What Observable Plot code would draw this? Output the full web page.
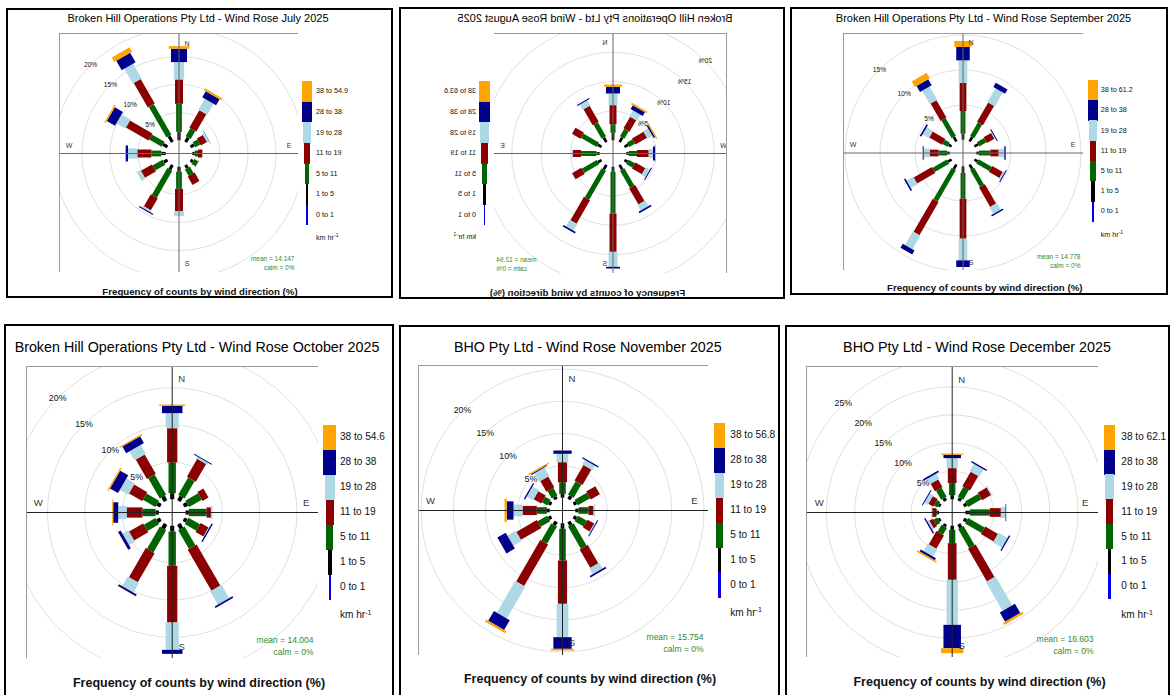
<!DOCTYPE html>
<html>
<head>
<meta charset="utf-8">
<script src="https://cdn.jsdelivr.net/npm/d3@7"></script>
<script src="https://cdn.jsdelivr.net/npm/@observablehq/plot@0.6"></script>
<style>
  html, body { margin: 0; padding: 0; background: #fff; }
  body { width: 1170px; height: 695px; overflow: hidden; position: relative; font-family: "Liberation Sans", Arial, sans-serif; color: #000; }
  .panel { position: absolute; background: #fff; overflow: hidden; }
  .frame { position: absolute; left: 0; top: 0; width: 100%; height: 100%; border: 2px solid #000; box-sizing: border-box; pointer-events: none; }
  .abs { position: absolute; white-space: nowrap; line-height: 1; }
  .ctr { transform: translate(-50%, -50%); }
  .lft { transform: translate(0, -50%); }
  .plotbox { position: absolute; }
  sup { font-size: 70%; vertical-align: 0; position: relative; top: -0.5em; }
</style>
</head>
<body>
<script>
// ---------------- DATA ----------------
const directions = [0, 30, 60, 90, 120, 150, 180, 210, 240, 270, 300, 330];
const speedBins = ["0 to 1", "1 to 5", "5 to 11", "11 to 19", "19 to 28", "28 to 38", "38+"];
const binColors = ["#0000ee", "#000000", "#006400", "#8b0000", "#add8e6", "#00008b", "#ffa500"];
const months = ["July", "August", "September", "October", "November", "December"];
const titles = [
  "Broken Hill Operations Pty Ltd - Wind Rose July 2025",
  "Broken Hill Operations Pty Ltd - Wind Rose August 2025",
  "Broken Hill Operations Pty Ltd - Wind Rose September 2025",
  "Broken Hill Operations Pty Ltd - Wind Rose October 2025",
  "BHO Pty Ltd - Wind Rose November 2025",
  "BHO Pty Ltd - Wind Rose December 2025"
];
const topBinMax = ["54.9", "63.6", "61.2", "54.6", "56.8", "62.1"];
const meanSpeeds = ["14.147", "12.94", "14.778", "14.004", "15.754", "16.603"];
const calmPct = ["0%", "0%", "0%", "0%", "0%", "0%"];
const ringTicks = [
  [5, 10, 15, 20],
  [5, 10, 15, 20],
  [5, 10, 15],
  [5, 10, 15, 20],
  [5, 10, 15, 20],
  [5, 10, 15, 20, 25]
];
const captionText = "Frequency of counts by wind direction (%)";
const unitText = "km hr";

// frequency (%) per direction (rows follow `directions`), columns follow `speedBins`
const julyFreq = [
  [0.06, 1.49, 5.00, 4.35, 3.10, 2.40, 0.45],
  [0.06, 0.90, 1.67, 3.57, 2.26, 1.25, 0.36],
  [0.06, 0.72, 1.00, 1.25, 0.41, 0.05, 0],
  [0.06, 0.42, 0.59, 0.78, 0.03, 0, 0],
  [0.06, 0.48, 0.83, 0.05, 0, 0, 0],
  [0.06, 0.60, 1.37, 1.72, 0.05, 0, 0],
  [0.06, 0.89, 3.04, 3.99, 0.89, 0, 0],
  [0.06, 0.89, 5.54, 2.50, 0.36, 0.17, 0],
  [0.06, 0.72, 2.08, 2.26, 0.71, 0.02, 0],
  [0.06, 0.77, 1.79, 2.50, 1.67, 0.41, 0.02],
  [0.06, 0.89, 2.62, 4.64, 1.85, 1.67, 0.27],
  [0.06, 1.19, 6.31, 5.06, 3.04, 1.96, 0.89]
];
const augustFreq = [
  [0.05, 1.26, 1.47, 3.23, 1.98, 1.14, 0.39],
  [0.05, 0.86, 2.78, 3.11, 1.02, 0.17, 0],
  [0.05, 0.69, 3.12, 1.64, 0, 0, 0],
  [0.05, 0.57, 2.61, 1.36, 0.23, 0, 0],
  [0.05, 0.69, 2.95, 1.81, 0.05, 0, 0],
  [0.05, 0.86, 5.72, 4.60, 1.30, 0.28, 0],
  [0.05, 0.86, 7.08, 6.52, 2.55, 0.29, 0],
  [0.05, 0.86, 3.40, 3.17, 1.08, 0.28, 0],
  [0.05, 0.57, 1.25, 1.93, 0.79, 0.17, 0],
  [0.05, 0.40, 1.42, 1.99, 0.73, 0.34, 0.12],
  [0.05, 0.69, 1.13, 2.27, 0.96, 0.29, 0.22],
  [0.05, 0.86, 1.47, 2.27, 1.19, 0.74, 0.28]
];
const septemberFreq = [
  [0.05, 0.85, 3.24, 4.00, 3.24, 1.91, 0.85],
  [0.05, 0.71, 2.24, 3.19, 2.29, 0.71, 0],
  [0.05, 0.57, 1.19, 1.24, 0.14, 0.14, 0],
  [0.05, 0.38, 1.62, 1.19, 0.81, 0.19, 0],
  [0.05, 0.47, 2.15, 1.76, 0.24, 0.14, 0],
  [0.05, 0.71, 2.81, 3.19, 1.10, 0.19, 0],
  [0.05, 0.95, 3.67, 5.71, 3.10, 0.95, 0],
  [0.05, 0.71, 5.19, 5.48, 2.24, 0.66, 0],
  [0.05, 0.57, 2.38, 3.00, 1.10, 0.23, 0],
  [0.05, 0.38, 1.19, 1.28, 0.86, 0.14, 0],
  [0.05, 0.47, 0.81, 2.10, 1.05, 0.23, 0],
  [0.05, 0.71, 2.95, 2.86, 2.19, 1.00, 0.91]
];
const octoberFreq = [
  [0.05, 0.80, 4.12, 4.60, 2.02, 0.98, 0.18],
  [0.05, 0.67, 2.68, 2.77, 0.27, 0.14, 0],
  [0.05, 0.53, 1.97, 0.94, 0.03, 0, 0],
  [0.05, 0.44, 2.37, 0.59, 0.22, 0, 0],
  [0.05, 0.44, 1.79, 1.21, 0.09, 0.18, 0],
  [0.05, 0.67, 2.90, 6.36, 2.06, 0.22, 0],
  [0.05, 0.76, 4.60, 7.61, 3.67, 0.54, 0],
  [0.05, 0.67, 3.44, 4.52, 1.48, 0.27, 0.04],
  [0.05, 0.53, 1.79, 2.19, 0.90, 0.40, 0.03],
  [0.05, 0.44, 1.75, 2.14, 1.12, 0.67, 0.14],
  [0.05, 0.53, 1.93, 2.05, 1.30, 1.25, 0.18],
  [0.05, 0.67, 3.13, 3.00, 1.38, 1.03, 0.18]
];
const novemberFreq = [
  [0.05, 0.59, 1.81, 3.10, 1.30, 0.51, 0],
  [0.05, 0.59, 2.38, 2.79, 0.78, 0.20, 0],
  [0.05, 0.49, 2.17, 1.65, 0.05, 0, 0],
  [0.05, 0.49, 1.55, 0.78, 0.25, 0, 0],
  [0.05, 0.49, 1.60, 1.19, 0.16, 0.15, 0],
  [0.05, 0.59, 3.98, 3.31, 1.03, 0.26, 0],
  [0.05, 0.85, 4.91, 6.72, 5.17, 1.81, 0.26],
  [0.05, 0.59, 3.10, 7.45, 5.68, 1.76, 0.36],
  [0.05, 0.49, 1.71, 3.67, 1.49, 1.50, 0],
  [0.05, 0.44, 1.55, 2.22, 1.40, 1.03, 0.36],
  [0.05, 0.44, 0.98, 1.34, 1.14, 0.21, 0],
  [0.05, 0.44, 1.34, 1.91, 1.50, 0.16, 0.20]
];
const decemberFreq = [
  [0.05, 0.72, 2.13, 2.66, 1.77, 0.59, 0.24],
  [0.05, 0.60, 2.01, 2.95, 1.48, 0.24, 0],
  [0.05, 0.60, 2.72, 1.83, 0.24, 0, 0],
  [0.05, 0.78, 3.54, 1.95, 0.83, 0.12, 0],
  [0.05, 0.60, 3.37, 2.60, 1.83, 0.24, 0],
  [0.05, 0.72, 3.90, 6.68, 5.91, 1.89, 0.41],
  [0.05, 0.72, 2.36, 6.50, 7.98, 4.14, 0.89],
  [0.05, 0.48, 1.42, 2.72, 1.48, 0.41, 0.30],
  [0.05, 0.42, 0.77, 0.71, 0.35, 0.24, 0],
  [0.05, 0.31, 0.17, 0.71, 0.18, 0, 0],
  [0.05, 0.42, 0.65, 1.01, 0.71, 0.17, 0],
  [0.05, 0.60, 1.83, 1.54, 1.06, 0.30, 0]
];
const monthlyFreq = [julyFreq, augustFreq, septemberFreq, octoberFreq, novemberFreq, decemberFreq];

// ---------------- LAYOUT / STYLE OPTIONS ----------------
const paddleRatio = [0.08, 0.2, 0.36, 0.5, 0.64, 1, 1.28];
const legendRatio = [0.18, 0.31, 0.53, 0.65, 0.79, 1, 1];
const meanColor = "#2e8b2e";

const layouts = [
  {left: 6, top: 8, w: 387, h: 290, mirror: false,
   box: {x: 53, y: 25, w: 239, h: 239, cx: 119.5, cy: 120}, scale: 5.6, offsetPx: 13, navyW: 16,
   title: {x: 192, y: 10, size: 11}, legend: {x: 301, top: 73, segH: 20.6, maxW: 9.3, labelX: 310, size: 7.2, kmY: 230},
   caption: {x: 194, y: 283.7, size: 9.7}, compass: {dist: 110, off: 8, size: 7}, pctSize: 6.7,
   meanSize: 6.5, meanDy: 14, calmDy: 4.7, meanDx: 4, line: "#666"},
  {left: 399, top: 7, w: 386, h: 292, mirror: true,
   box: {x: 58, y: 26, w: 233, h: 240, cx: 113.5, cy: 120}, scale: 5.88, offsetPx: 13, navyW: 14,
   title: {x: 190, y: 11, size: 11}, legend: {x: 300.5, top: 74, segH: 20.6, maxW: 10.5, labelX: 309, size: 7.2, kmY: 230},
   caption: {x: 197.5, y: 285.7, size: 9.7}, compass: {dist: 110.5, off: 8, size: 7}, pctSize: 6.7,
   meanSize: 6.5, meanDy: 14, calmDy: 4.7, meanDx: 3, line: "#666"},
  {left: 790, top: 7, w: 378, h: 288, mirror: false,
   box: {x: 53, y: 26, w: 240, h: 237, cx: 119.5, cy: 119.5}, scale: 7.0, offsetPx: 13, navyW: 13.5,
   title: {x: 193.5, y: 11.3, size: 11}, legend: {x: 303, top: 73, segH: 20.2, maxW: 10, labelX: 310.7, size: 7.2, kmY: 228},
   caption: {x: 194.8, y: 280.7, size: 9.7}, compass: {dist: 110, off: 8, size: 7}, pctSize: 6.7,
   meanSize: 6.5, meanDy: 14, calmDy: 4.7, meanDx: 3, line: "#666"},
  {left: 4, top: 324, w: 390, h: 380, mirror: false,
   box: {x: 22, y: 42, w: 292, h: 292, cx: 145.7, cy: 146}, scale: 7.45, offsetPx: 13, navyW: 20.5,
   title: {x: 193, y: 23, size: 14.3}, legend: {x: 325.7, top: 100.7, segH: 25, maxW: 12.7, labelX: 336, size: 10.1, kmY: 291.3},
   caption: {x: 195, y: 359, size: 12.5}, compass: {dist: 134, off: 9.5, size: 9.5}, pctSize: 8.8,
   meanSize: 8.5, meanDy: 18, calmDy: 6.3, meanDx: 5, line: "#222"},
  {left: 399, top: 325, w: 381, h: 380, mirror: false,
   box: {x: 19, y: 40, w: 290, h: 290, cx: 144, cy: 145}, scale: 6.45, offsetPx: 12.5, navyW: 18.3,
   title: {x: 188.8, y: 22, size: 14.3}, legend: {x: 320.5, top: 98, segH: 24.9, maxW: 11.6, labelX: 331.3, size: 10.1, kmY: 287.7},
   caption: {x: 191, y: 353.7, size: 12.5}, compass: {dist: 132, off: 9.5, size: 9.5}, pctSize: 8.8,
   meanSize: 8.5, meanDy: 18, calmDy: 6.3, meanDx: 5, line: "#222"},
  {left: 785, top: 325, w: 385, h: 380, mirror: false,
   box: {x: 21, y: 41, w: 292, h: 291, cx: 145.7, cy: 146}, scale: 5.64, offsetPx: 13, navyW: 17.5,
   title: {x: 192, y: 22, size: 14.3}, legend: {x: 324.5, top: 99.7, segH: 24.86, maxW: 11.6, labelX: 336.3, size: 10.1, kmY: 290.3},
   caption: {x: 194.5, y: 357, size: 12.5}, compass: {dist: 133, off: 9.5, size: 9.5}, pctSize: 8.8,
   meanSize: 8.5, meanDy: 18, calmDy: 6.3, meanDx: 5, line: "#222"}
];

// ---------------- BUILD ----------------
function el(parent, cls, html, styles) {
  const d = document.createElement("div");
  d.className = cls;
  if (html != null) d.innerHTML = html;
  Object.assign(d.style, styles || {});
  parent.appendChild(d);
  return d;
}

function rose(i) {
  const L = layouts[i];
  const s = L.scale;
  const off = L.offsetPx / s;
  const B = L.box;
  const segs = [];
  monthlyFreq[i].forEach((row, k) => {
    const a = directions[k] * Math.PI / 180;
    let cum = off;
    row.forEach((v, b) => {
      if (v > 0) segs.push({dir: directions[k], a, bin: speedBins[b], r0: cum, r1: cum + v, w: paddleRatio[b] * L.navyW});
      cum += v;
    });
  });
  const ticks = ringTicks[i];
  const R = L.compass.dist / s;
  const ns = [{t: "N", x: 0, y: R}, {t: "S", x: 0, y: -R}];
  const ew = [{t: "E", x: R, y: 0}, {t: "W", x: -R, y: 0}];
  return Plot.plot({
    width: B.w, height: B.h, margin: 0,
    x: {domain: [-B.cx / s, (B.w - B.cx) / s], axis: null},
    y: {domain: [-(B.h - B.cy) / s, B.cy / s], axis: null},
    r: {type: "linear", domain: [0, 1], range: [0, s]},
    color: {domain: speedBins, range: binColors},
    style: {overflow: "hidden", background: "#fff", fontFamily: "Liberation Sans, Arial, sans-serif"},
    marks: [
      Plot.dot(ticks, {x: () => 0, y: () => 0, r: d => d + off, stroke: "#e0e0e0", fill: "none", strokeWidth: 1}),
      Plot.link(segs, {
        x1: d => d.r0 * Math.sin(d.a), y1: d => d.r0 * Math.cos(d.a),
        x2: d => d.r1 * Math.sin(d.a), y2: d => d.r1 * Math.cos(d.a),
        stroke: "bin", strokeWidth: "w", strokeLinecap: "butt", strokeOpacity: 1
      }),
      Plot.ruleX([0], {stroke: L.line, strokeWidth: 1}),
      Plot.ruleY([0], {stroke: L.line, strokeWidth: 1}),
      Plot.text(ticks, {x: d => -(d + off) * Math.SQRT1_2, y: d => (d + off) * Math.SQRT1_2, text: d => d + "%", fontSize: L.pctSize, fill: "#111"}),
      Plot.text(ns, {x: "x", y: "y", text: "t", dx: L.compass.off, fontSize: L.compass.size, fill: "#333"}),
      Plot.text(ew, {x: "x", y: "y", text: "t", dy: -L.compass.off, fontSize: L.compass.size, fill: "#333"}),
      Plot.text([`mean = ${meanSpeeds[i]}`], {frameAnchor: "bottom-right", textAnchor: "end", lineAnchor: "middle", dx: -L.meanDx, dy: -L.meanDy, fontSize: L.meanSize, fill: meanColor}),
      Plot.text([`calm = ${calmPct[i]}`], {frameAnchor: "bottom-right", textAnchor: "end", lineAnchor: "middle", dx: -L.meanDx, dy: -L.calmDy, fontSize: L.meanSize, fill: meanColor}),
      Plot.frame({stroke: "#9a9a9a", strokeWidth: 1})
    ]
  });
}

layouts.forEach((L, i) => {
  const panel = el(document.body, "panel", null, {
    left: L.left + "px", top: L.top + "px", width: L.w + "px", height: L.h + "px",
    transform: L.mirror ? "scaleX(-1)" : "none"
  });
  el(panel, "abs ctr", titles[i], {left: L.title.x + "px", top: L.title.y + "px", fontSize: L.title.size + "px"});
  const holder = el(panel, "plotbox", null, {left: L.box.x + "px", top: L.box.y + "px", width: L.box.w + "px", height: L.box.h + "px"});
  holder.appendChild(rose(i));
  // legend key
  for (let k = 0; k < speedBins.length; k++) {
    const b = speedBins.length - 1 - k;
    const w = legendRatio[b] * L.legend.maxW;
    el(panel, "abs", null, {
      left: (L.legend.x - w / 2) + "px", top: (L.legend.top + k * L.legend.segH) + "px",
      width: w + "px", height: (L.legend.segH + 0.3) + "px", background: binColors[b]
    });
    const label = b === speedBins.length - 1 ? `38 to ${topBinMax[i]}` : speedBins[b];
    el(panel, "abs lft", label, {
      left: L.legend.labelX + "px", top: (L.legend.top + (k + 0.5) * L.legend.segH) + "px",
      fontSize: L.legend.size + "px", color: "#111"
    });
  }
  el(panel, "abs lft", `${unitText}<sup>-1</sup>`, {left: L.legend.labelX + "px", top: L.legend.kmY + "px", fontSize: L.legend.size + "px", color: "#111"});
  el(panel, "abs ctr", captionText, {left: L.caption.x + "px", top: L.caption.y + "px", fontSize: L.caption.size + "px", fontWeight: "bold", color: "#111"});
  el(panel, "frame", null, {});
});
</script>
</body>
</html>
